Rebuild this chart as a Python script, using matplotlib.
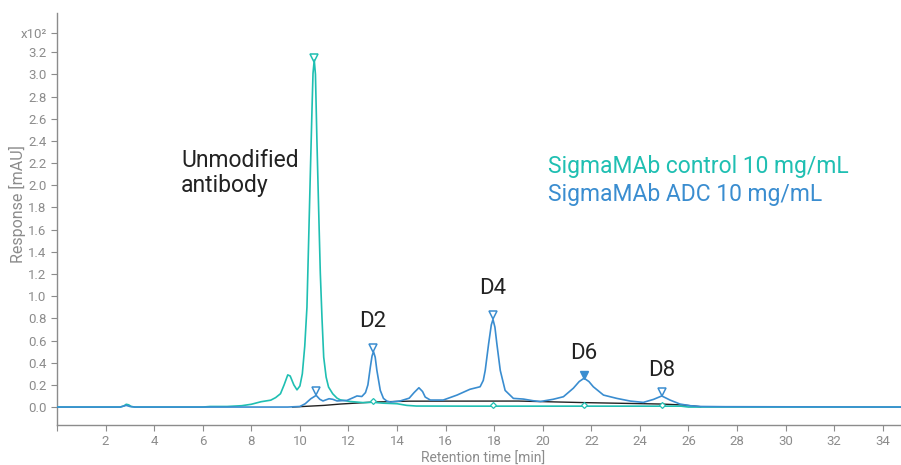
import matplotlib
matplotlib.use('Agg')
import matplotlib.pyplot as plt

plt.rcParams['font.family'] = ['Roboto', 'DejaVu Sans']

# control trace (retention time [min], response [x10^2 mAU])
control_t = [0.0, 2.6, 2.75, 2.85, 2.95, 3.05, 3.2, 6.0, 6.3, 7.0, 7.6, 8.0, 8.4, 8.8, 9.0, 9.2,
             9.35, 9.5, 9.6, 9.75, 9.88, 10.0, 10.1, 10.2, 10.29, 10.36, 10.43, 10.5, 10.54, 10.59,
             10.64, 10.7, 10.77, 10.84, 10.91, 10.98, 11.08, 11.18, 11.35, 11.53, 11.66, 12.07,
             12.6, 12.9, 13.03, 13.15, 13.43, 14.0, 14.4, 14.8, 17.0, 25.7, 26.0, 34.75]
control_y = [0.0, 0.0, 0.01, 0.025, 0.02, 0.005, 0.0, 0.0, 0.005, 0.005, 0.012, 0.025, 0.048, 0.062,
             0.085, 0.12, 0.2, 0.29, 0.28, 0.2, 0.155, 0.19, 0.3, 0.55, 0.9, 1.5, 2.11, 2.7, 3.01,
             3.13, 3.0, 2.41, 1.8, 1.21, 0.8, 0.45, 0.27, 0.18, 0.12, 0.08, 0.065, 0.05,
             0.04, 0.042, 0.05, 0.04, 0.035, 0.03, 0.015, 0.009, 0.008, 0.008, 0.0, 0.0]

# ADC trace
adc_t = [0.0, 2.6, 2.85, 3.0, 3.2, 9.5, 10.0, 10.22, 10.45, 10.67, 10.82, 10.95, 11.2, 11.35,
         11.53, 11.94, 12.2, 12.35, 12.55, 12.7, 12.8, 12.9, 12.97, 13.03, 13.1, 13.17, 13.31,
         13.44, 13.58, 13.73, 14.13, 14.5, 14.7, 14.9, 15.05, 15.16, 15.37, 15.9, 16.47, 17.0,
         17.42, 17.55, 17.63, 17.77, 17.88, 17.95, 18.03, 18.11, 18.25, 18.45, 18.79, 19.2,
         19.6, 19.9, 20.43, 20.85, 21.26, 21.5, 21.7, 21.9, 22.08, 22.5, 23.05, 23.6, 24.14,
         24.56, 24.9, 25.24, 25.65, 26.07, 26.5, 27.5, 34.75]
adc_y = [0.0, 0.0, 0.015, 0.005, 0.0, 0.0, 0.005, 0.03, 0.075, 0.105, 0.07, 0.055, 0.075, 0.07,
         0.055, 0.06, 0.085, 0.1, 0.095, 0.13, 0.2, 0.36, 0.46, 0.5, 0.45, 0.33, 0.15,
         0.078, 0.054, 0.045, 0.055, 0.08, 0.13, 0.174, 0.14, 0.09, 0.063, 0.063, 0.108, 0.16,
         0.183, 0.24, 0.33, 0.57, 0.74, 0.79, 0.72, 0.57, 0.33, 0.15, 0.078, 0.072,
         0.057, 0.05, 0.07, 0.093, 0.17, 0.23, 0.26, 0.23, 0.183, 0.108, 0.078, 0.054, 0.042,
         0.069, 0.1, 0.063, 0.027, 0.012, 0.005, 0.003, 0.0]

# integration baseline
base_t = [9.7, 11.0, 11.66, 13.03, 14.5, 19.0, 21.7, 24.9, 25.8, 26.5]
base_y = [0.0, 0.015, 0.027, 0.045, 0.053, 0.054, 0.04, 0.027, 0.018, 0.003]

# peak apex markers
ctrl_peak_t = [10.59]
ctrl_peak_y = [3.15]
adc_peak_t = [10.67, 13.03, 17.95, 24.9]
adc_peak_y = [0.145, 0.53, 0.83, 0.135]
adc_d6_t = [21.7]
adc_d6_y = [0.29]
ctrl_small_t = [13.03, 17.95, 21.7, 24.9]
ctrl_small_y = [0.054, 0.02, 0.02, 0.02]

peak_labels = ['D2', 'D4', 'D6', 'D8']
peak_label_t = [13.0, 17.95, 21.7, 24.9]
peak_label_y = [0.77, 1.07, 0.48, 0.33]

teal = '#1fbfb2'
blue = '#3a8dd0'
gray = '#8c8c8c'

fig = plt.figure(figsize=(9.01, 4.65), dpi=100)
ax = fig.add_axes([0.0633, 0.086, 0.9367, 0.886])

ax.plot(base_t, base_y, color='#222222', lw=1.0, zorder=2)
ax.plot(control_t, control_y, color=teal, lw=1.2, zorder=3)
ax.plot(adc_t, adc_y, color=blue, lw=1.2, zorder=4)

ax.plot(ctrl_peak_t, ctrl_peak_y, 'v', ms=6, mfc='none', mec=teal, mew=1.1, zorder=5)
ax.plot(adc_peak_t, adc_peak_y, 'v', ms=6, mfc='none', mec=blue, mew=1.1, zorder=5)
ax.plot(adc_d6_t, adc_d6_y, 'v', ms=5.5, mfc=blue, mec=blue, zorder=5)
ax.plot(ctrl_small_t, ctrl_small_y, 'D', ms=3, mfc='white', mec=teal, mew=0.9, zorder=5)

for lab, t, y in zip(peak_labels, peak_label_t, peak_label_y):
    ax.text(t, y, lab, fontsize=16, color='#222222', ha='center', va='center')

ax.text(5.1, 2.11, 'Unmodified\nantibody', fontsize=16.5, color='#222222',
        ha='left', va='center', linespacing=1.15)
ax.text(20.2, 2.17, 'SigmaMAb control 10 mg/mL', fontsize=16.5, color=teal, ha='left', va='center')
ax.text(20.2, 1.92, 'SigmaMAb ADC 10 mg/mL', fontsize=16.5, color=blue, ha='left', va='center')

ax.set_xlim(0, 34.75)
ax.set_ylim(-0.162, 3.553)

xt = list(range(0, 35, 2))
ax.set_xticks(xt)
ax.set_xticklabels([''] + [str(v) for v in xt[1:]])
yt = [round(0.2 * i, 1) for i in range(17)] + [3.37]
ax.set_yticks(yt)
ylabels = ['%.1f' % v for v in yt[:-1]] + ['x10²']
ax.set_yticklabels(ylabels)
ax.get_yticklabels()[-1].set_fontsize(8)

ax.tick_params(colors=gray, labelcolor=gray, labelsize=9.5, length=4, width=0.8)
for s in ['top', 'right']:
    ax.spines[s].set_visible(False)
for s in ['left', 'bottom']:
    ax.spines[s].set_color(gray)
    ax.spines[s].set_linewidth(1.0)

# axis titles placed in figure pixels so they stay inside the canvas
fig.text(483 / 901, 1 - 459 / 465, 'Retention time [min]', color=gray, fontsize=10,
         ha='center', va='center')
fig.text(17 / 901, 1 - 204 / 465, 'Response [mAU]', color=gray, fontsize=11.5,
         ha='center', va='center', rotation=90)

fig.savefig('out.png', dpi=100)
